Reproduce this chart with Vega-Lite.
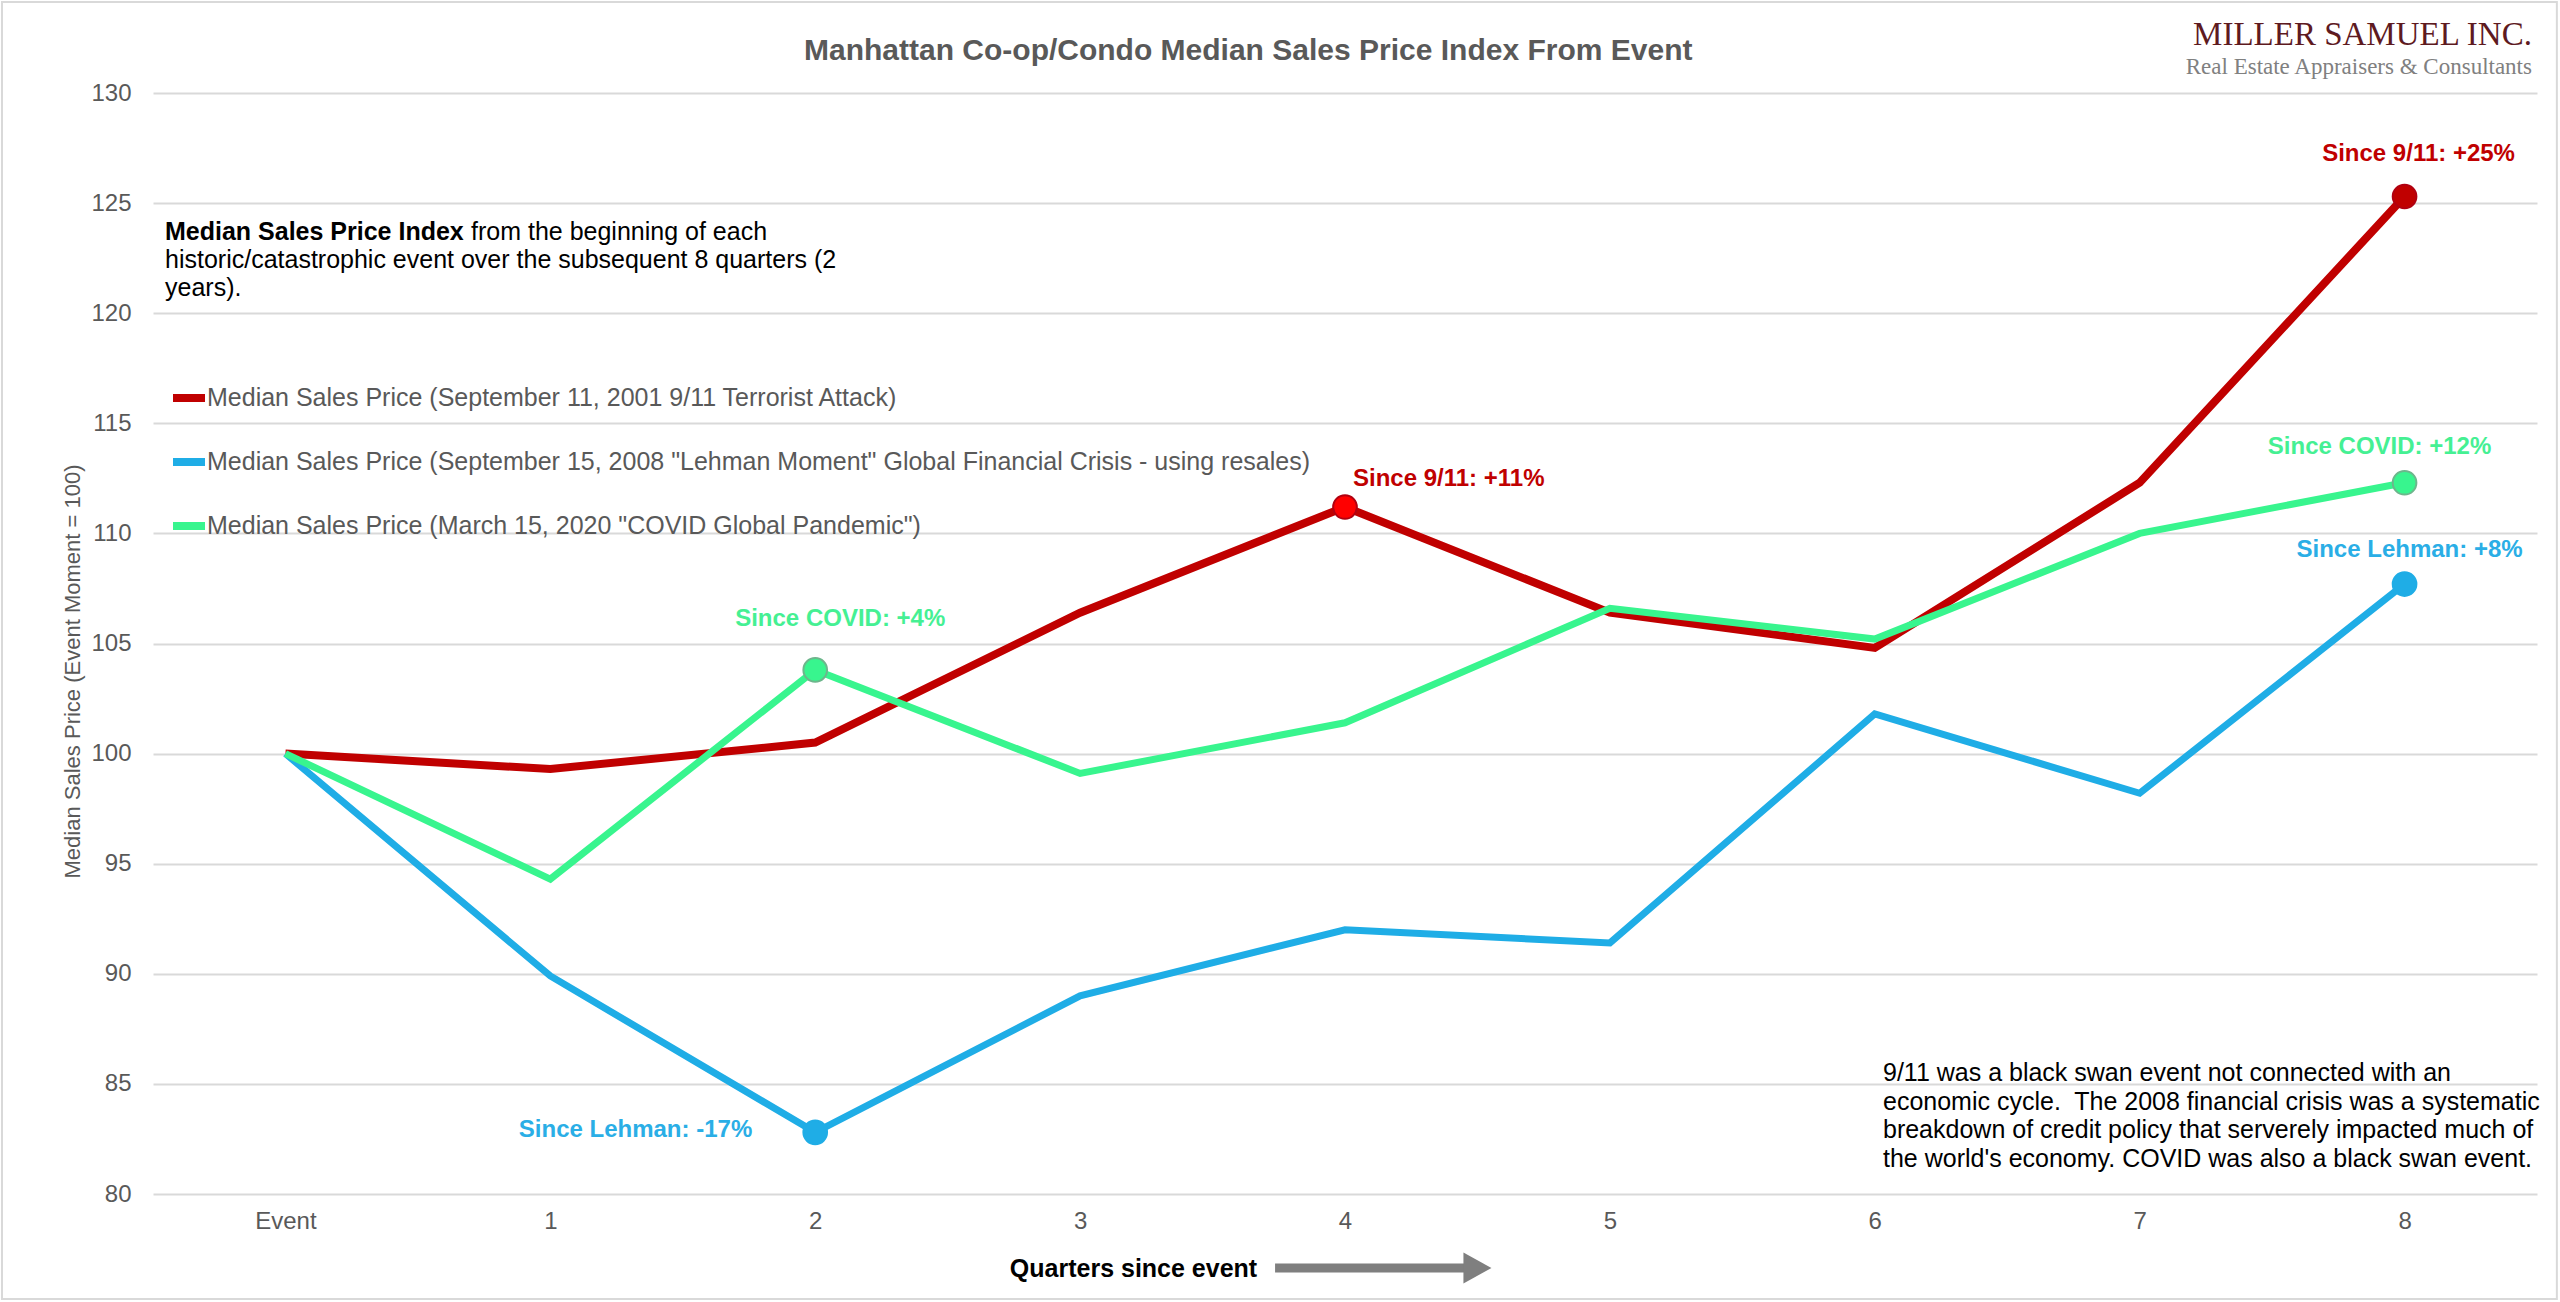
{
  "$schema": "https://vega.github.io/schema/vega-lite/v6.json",
  "width": 2384,
  "height": 1101,
  "autosize": {"type": "none"},
  "padding": {"left": 153, "top": 93, "right": 23, "bottom": 108},
  "background": "white",
  "config": {"font": "Liberation Sans", "view": {"stroke": null}},
  "title": {
    "text": "Manhattan Co-op/Condo Median Sales Price Index From Event",
    "anchor": "start", "frame": "group", "dx": 651, "dy": 30,
    "fontSize": 30, "fontWeight": "bold", "color": "#595959",
    "baseline": "bottom", "offset": -65
  },
  "datasets": {
    "main": [
      {"q": 0, "series": "Median Sales Price (September 11, 2001 9/11 Terrorist Attack)", "value": 100, "label": ""},
      {"q": 1, "series": "Median Sales Price (September 11, 2001 9/11 Terrorist Attack)", "value": 99.3, "label": ""},
      {"q": 2, "series": "Median Sales Price (September 11, 2001 9/11 Terrorist Attack)", "value": 100.5, "label": ""},
      {"q": 3, "series": "Median Sales Price (September 11, 2001 9/11 Terrorist Attack)", "value": 106.4, "label": ""},
      {"q": 4, "series": "Median Sales Price (September 11, 2001 9/11 Terrorist Attack)", "value": 111.2, "label": "Since 9/11: +11%"},
      {"q": 5, "series": "Median Sales Price (September 11, 2001 9/11 Terrorist Attack)", "value": 106.4, "label": ""},
      {"q": 6, "series": "Median Sales Price (September 11, 2001 9/11 Terrorist Attack)", "value": 104.8, "label": ""},
      {"q": 7, "series": "Median Sales Price (September 11, 2001 9/11 Terrorist Attack)", "value": 112.3, "label": ""},
      {"q": 8, "series": "Median Sales Price (September 11, 2001 9/11 Terrorist Attack)", "value": 125.3, "label": "Since 9/11: +25%"},
      {"q": 0, "series": "Median Sales Price (September 15, 2008 \"Lehman Moment\" Global Financial Crisis - using resales)", "value": 100, "label": ""},
      {"q": 1, "series": "Median Sales Price (September 15, 2008 \"Lehman Moment\" Global Financial Crisis - using resales)", "value": 89.9, "label": ""},
      {"q": 2, "series": "Median Sales Price (September 15, 2008 \"Lehman Moment\" Global Financial Crisis - using resales)", "value": 82.8, "label": "Since Lehman: -17%"},
      {"q": 3, "series": "Median Sales Price (September 15, 2008 \"Lehman Moment\" Global Financial Crisis - using resales)", "value": 89.0, "label": ""},
      {"q": 4, "series": "Median Sales Price (September 15, 2008 \"Lehman Moment\" Global Financial Crisis - using resales)", "value": 92.0, "label": ""},
      {"q": 5, "series": "Median Sales Price (September 15, 2008 \"Lehman Moment\" Global Financial Crisis - using resales)", "value": 91.4, "label": ""},
      {"q": 6, "series": "Median Sales Price (September 15, 2008 \"Lehman Moment\" Global Financial Crisis - using resales)", "value": 101.8, "label": ""},
      {"q": 7, "series": "Median Sales Price (September 15, 2008 \"Lehman Moment\" Global Financial Crisis - using resales)", "value": 98.2, "label": ""},
      {"q": 8, "series": "Median Sales Price (September 15, 2008 \"Lehman Moment\" Global Financial Crisis - using resales)", "value": 107.7, "label": "Since Lehman: +8%"},
      {"q": 0, "series": "Median Sales Price (March 15, 2020 \"COVID Global Pandemic\")", "value": 100, "label": ""},
      {"q": 1, "series": "Median Sales Price (March 15, 2020 \"COVID Global Pandemic\")", "value": 94.3, "label": ""},
      {"q": 2, "series": "Median Sales Price (March 15, 2020 \"COVID Global Pandemic\")", "value": 103.8, "label": "Since COVID: +4%"},
      {"q": 3, "series": "Median Sales Price (March 15, 2020 \"COVID Global Pandemic\")", "value": 99.1, "label": ""},
      {"q": 4, "series": "Median Sales Price (March 15, 2020 \"COVID Global Pandemic\")", "value": 101.4, "label": ""},
      {"q": 5, "series": "Median Sales Price (March 15, 2020 \"COVID Global Pandemic\")", "value": 106.6, "label": ""},
      {"q": 6, "series": "Median Sales Price (March 15, 2020 \"COVID Global Pandemic\")", "value": 105.2, "label": ""},
      {"q": 7, "series": "Median Sales Price (March 15, 2020 \"COVID Global Pandemic\")", "value": 110.0, "label": ""},
      {"q": 8, "series": "Median Sales Price (March 15, 2020 \"COVID Global Pandemic\")", "value": 112.3, "label": "Since COVID: +12%"}
    ]
  },
  "data": {"name": "main"},
  "encoding": {
    "x": {
      "field": "q", "type": "quantitative",
      "scale": {"domain": [-0.5, 8.5], "nice": false, "zero": false},
      "axis": {
        "values": [0, 1, 2, 3, 4, 5, 6, 7, 8],
        "labelExpr": "datum.value === 0 ? 'Event' : datum.label",
        "grid": false, "ticks": false, "domain": false, "labelFlush": false,
        "labelFontSize": 24, "labelColor": "#595959", "labelPadding": 15,
        "title": "Quarters since event", "titleFontSize": 25, "titleFontWeight": "bold",
        "titleColor": "black", "titleX": 980, "titleY": 74,
        "titleAlign": "center", "titleBaseline": "middle"
      }
    },
    "y": {
      "field": "value", "type": "quantitative",
      "scale": {"domain": [80, 130], "nice": false, "zero": false},
      "axis": {
        "values": [80, 85, 90, 95, 100, 105, 110, 115, 120, 125, 130],
        "grid": true, "gridColor": "#D9D9D9", "gridWidth": 2,
        "ticks": false, "domain": false, "labelFlush": false,
        "labelFontSize": 24, "labelColor": "#595959", "labelPadding": 22,
        "title": "Median Sales Price (Event Moment = 100)", "titleFontSize": 22,
        "titleFontWeight": "normal", "titleColor": "#595959",
        "titleX": -81, "titleY": 578, "titleAlign": "center", "titleBaseline": "middle"
      }
    }
  },
  "layer": [
    {
      "transform": [{"filter": "datum.q === 0 && indexof(datum.series, '9/11') >= 0"}],
      "mark": {"type": "rect", "filled": false, "stroke": "#D9D9D9", "strokeWidth": 2},
      "encoding": {"x": {"datum": -1.07}, "x2": {"datum": 8.575}, "y": {"datum": 134.13}, "y2": {"datum": 75.23}}
    },
    {
      "transform": [{"filter": "indexof(datum.series, '9/11') >= 0"}],
      "mark": {"type": "line", "strokeWidth": 8},
      "encoding": {
        "color": {
          "field": "series", "type": "nominal",
          "scale": {
            "domain": ["Median Sales Price (September 11, 2001 9/11 Terrorist Attack)", "Median Sales Price (September 15, 2008 \"Lehman Moment\" Global Financial Crisis - using resales)", "Median Sales Price (March 15, 2020 \"COVID Global Pandemic\")"],
            "range": ["#C00000", "#1FADE6", "#38F58E"]
          },
          "legend": {
            "title": null, "orient": "none", "direction": "vertical", "legendX": 16, "legendY": 285,
            "symbolType": "stroke", "symbolSize": 1024, "symbolStrokeWidth": 8,
            "labelFontSize": 25, "labelColor": "#595959", "labelOffset": -2,
            "rowPadding": 28, "padding": 0, "labelLimit": 0
          }
        }
      }
    },
    {
      "transform": [{"filter": "indexof(datum.series, 'Lehman') >= 0"}],
      "mark": {"type": "line", "strokeWidth": 7},
      "encoding": {"color": {"field": "series", "type": "nominal"}}
    },
    {
      "transform": [{"filter": "indexof(datum.series, 'COVID') >= 0"}],
      "mark": {"type": "line", "strokeWidth": 7},
      "encoding": {"color": {"field": "series", "type": "nominal"}}
    },
    {
      "transform": [{"filter": "datum.label !== ''"}],
      "mark": {"type": "point", "filled": true, "size": 560, "strokeWidth": 2, "opacity": 1},
      "encoding": {
        "fill": {
          "condition": {"test": "datum.label === 'Since 9/11: +11%'", "value": "#FF0000"},
          "field": "series", "type": "nominal",
          "scale": {
            "domain": ["Median Sales Price (September 11, 2001 9/11 Terrorist Attack)", "Median Sales Price (September 15, 2008 \"Lehman Moment\" Global Financial Crisis - using resales)", "Median Sales Price (March 15, 2020 \"COVID Global Pandemic\")"],
            "range": ["#C00000", "#1FADE6", "#38F58E"]
          },
          "legend": null
        },
        "stroke": {
          "field": "series", "type": "nominal",
          "scale": {
            "domain": ["Median Sales Price (September 11, 2001 9/11 Terrorist Attack)", "Median Sales Price (September 15, 2008 \"Lehman Moment\" Global Financial Crisis - using resales)", "Median Sales Price (March 15, 2020 \"COVID Global Pandemic\")"],
            "range": ["#B00010", "#1FADE6", "#6DB68C"]
          },
          "legend": null
        }
      }
    },
    {
      "transform": [{"filter": "datum.label === 'Since 9/11: +11%'"}],
      "mark": {"type": "text", "align": "left", "baseline": "middle", "dx": 8, "dy": -28, "fontSize": 24, "fontWeight": "bold", "color": "#C00000"},
      "encoding": {"text": {"field": "label"}}
    },
    {
      "transform": [{"filter": "datum.label === 'Since 9/11: +25%'"}],
      "mark": {"type": "text", "align": "center", "baseline": "middle", "dx": 14, "dy": -42, "fontSize": 24, "fontWeight": "bold", "color": "#C00000"},
      "encoding": {"text": {"field": "label"}}
    },
    {
      "transform": [{"filter": "datum.label === 'Since Lehman: -17%'"}],
      "mark": {"type": "text", "align": "right", "baseline": "middle", "dx": -63, "dy": -2, "fontSize": 24, "fontWeight": "bold", "color": "#2AAEE6"},
      "encoding": {"text": {"field": "label"}}
    },
    {
      "transform": [{"filter": "datum.label === 'Since Lehman: +8%'"}],
      "mark": {"type": "text", "align": "center", "baseline": "middle", "dx": 5, "dy": -34, "fontSize": 24, "fontWeight": "bold", "color": "#2AAEE6"},
      "encoding": {"text": {"field": "label"}}
    },
    {
      "transform": [{"filter": "datum.label === 'Since COVID: +4%'"}],
      "mark": {"type": "text", "align": "center", "baseline": "middle", "dx": 25, "dy": -51, "fontSize": 24, "fontWeight": "bold", "color": "#45F093"},
      "encoding": {"text": {"field": "label"}}
    },
    {
      "transform": [{"filter": "datum.label === 'Since COVID: +12%'"}],
      "mark": {"type": "text", "align": "center", "baseline": "middle", "dx": -25, "dy": -36, "fontSize": 24, "fontWeight": "bold", "color": "#45F093"},
      "encoding": {"text": {"field": "label"}}
    },
    {
      "transform": [{"filter": "datum.q === 0 && indexof(datum.series, '9/11') >= 0"}],
      "mark": {"type": "text", "align": "left", "baseline": "middle", "fontSize": 25, "fontWeight": "bold", "color": "black"},
      "encoding": {"x": {"datum": -0.4547}, "y": {"datum": 123.69}, "text": {"value": "Median Sales Price Index"}}
    },
    {
      "transform": [{"filter": "datum.q === 0 && indexof(datum.series, '9/11') >= 0"}],
      "mark": {"type": "text", "align": "left", "baseline": "middle", "fontSize": 25, "color": "black"},
      "encoding": {"x": {"datum": 0.7005}, "y": {"datum": 123.69}, "text": {"value": "from the beginning of each"}}
    },
    {
      "transform": [{"filter": "datum.q === 0 && indexof(datum.series, '9/11') >= 0"}],
      "mark": {"type": "text", "align": "left", "baseline": "middle", "fontSize": 25, "lineHeight": 28, "color": "black"},
      "encoding": {"x": {"datum": -0.4547}, "y": {"datum": 122.42}, "text": {"value": ["historic/catastrophic event over the subsequent 8 quarters (2", "years)."]}}
    },
    {
      "transform": [{"filter": "datum.q === 0 && indexof(datum.series, '9/11') >= 0"}],
      "mark": {"type": "text", "align": "left", "baseline": "middle", "fontSize": 25, "lineHeight": 28.7, "color": "black"},
      "encoding": {"x": {"datum": 6.031}, "y": {"datum": 85.5}, "text": {"value": ["9/11 was a black swan event not connected with an", "economic cycle.\u00a0 The 2008 financial crisis was a systematic", "breakdown of credit policy that serverely impacted much of", "the world's economy. COVID was also a black swan event."]}}
    },
    {
      "transform": [{"filter": "datum.q === 0 && indexof(datum.series, '9/11') >= 0"}],
      "mark": {"type": "text", "align": "right", "baseline": "middle", "font": "Liberation Serif", "fontSize": 33, "color": "#5E1A1F"},
      "encoding": {"x": {"datum": 8.481}, "y": {"datum": 132.63}, "text": {"value": "MILLER SAMUEL INC."}}
    },
    {
      "transform": [{"filter": "datum.q === 0 && indexof(datum.series, '9/11') >= 0"}],
      "mark": {"type": "text", "align": "right", "baseline": "middle", "font": "Liberation Serif", "fontSize": 23, "color": "#808080"},
      "encoding": {"x": {"datum": 8.481}, "y": {"datum": 131.2}, "text": {"value": "Real Estate Appraisers & Consultants"}}
    },
    {
      "transform": [{"filter": "datum.q === 0 && indexof(datum.series, '9/11') >= 0"}],
      "mark": {"type": "rule", "strokeWidth": 9, "strokeCap": "butt", "color": "#7F7F7F"},
      "encoding": {"x": {"datum": 3.736}, "x2": {"datum": 4.46}, "y": {"datum": 76.64}}
    },
    {
      "transform": [{"filter": "datum.q === 0 && indexof(datum.series, '9/11') >= 0"}],
      "mark": {"type": "point", "shape": "M-1,-1.1L1,0L-1,1.1Z", "size": 784, "filled": true, "opacity": 1, "color": "#7F7F7F"},
      "encoding": {"x": {"datum": 4.5}, "y": {"datum": 76.64}}
    }
  ]
}
